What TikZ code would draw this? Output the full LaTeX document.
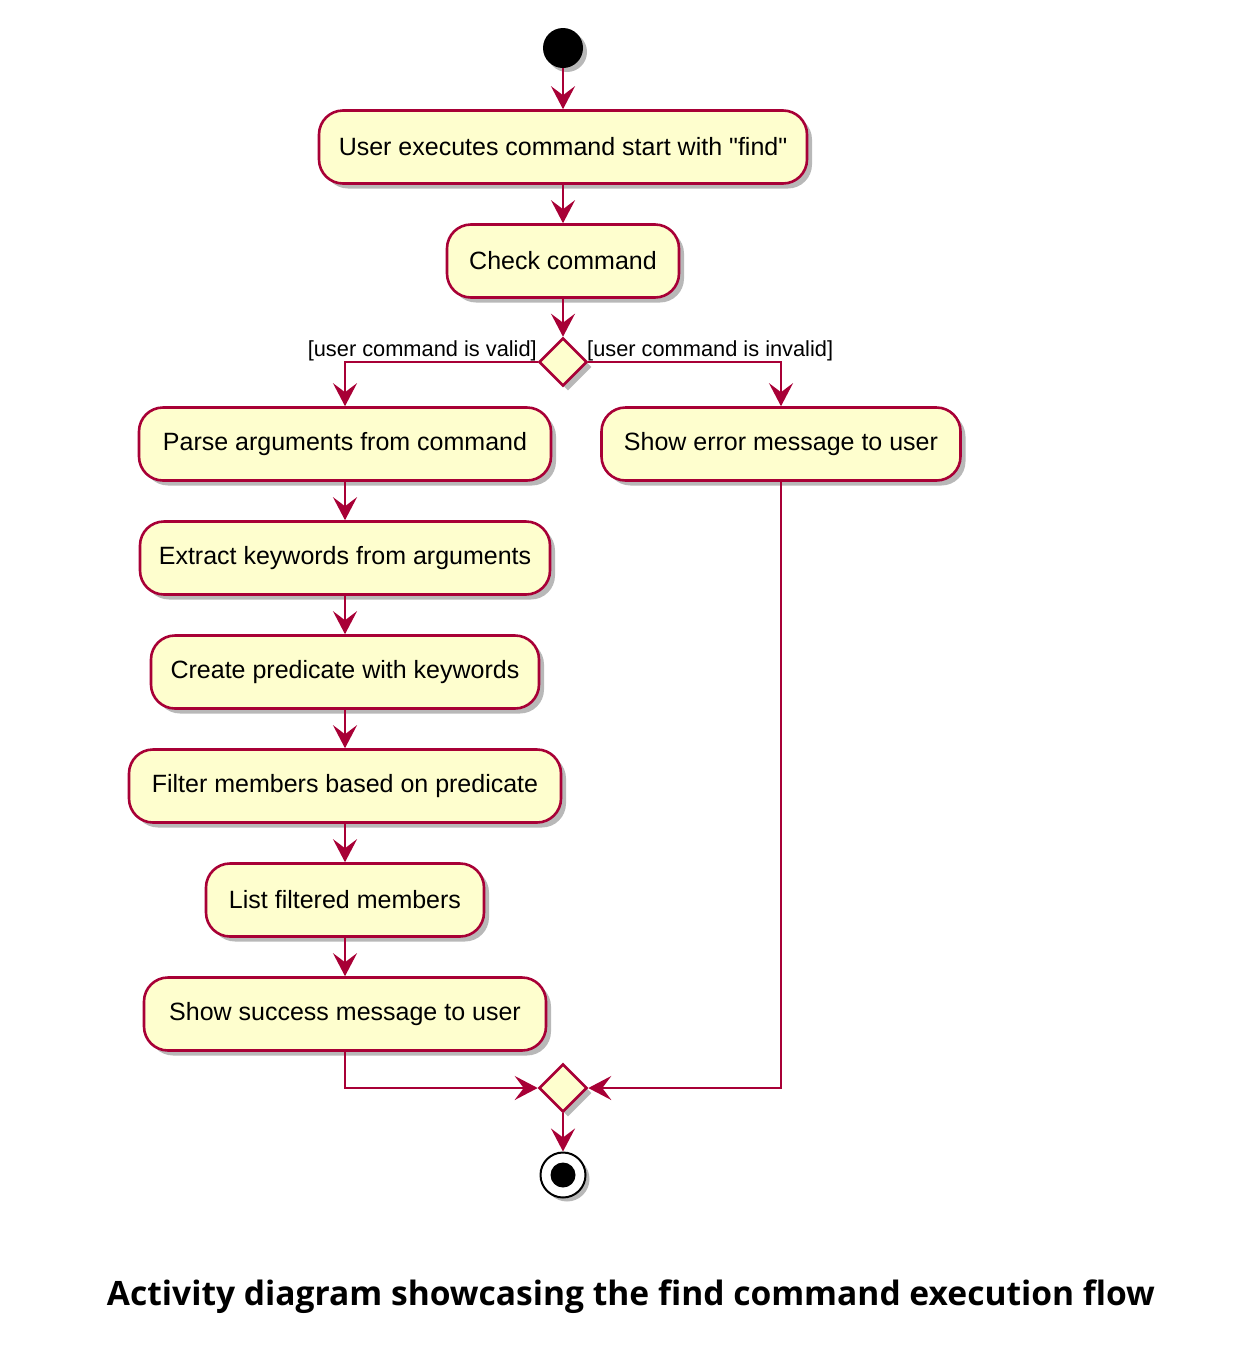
\documentclass[tikz,border=0pt]{standalone}
\usepackage{fontspec}
\setmainfont[Ligatures=TeXOff]{Liberation Sans}
\newfontfamily\capfont{Open Sans}
\usetikzlibrary{arrows.meta,shapes.geometric,shadows}
\definecolor{umlfill}{HTML}{FEFECE}
\definecolor{umlline}{HTML}{A80036}
\tikzset{
  actbox/.style={draw=umlline, fill=umlfill, line width=2.6pt, rounded corners=24pt,
    minimum height=73pt, inner sep=0pt, font=\fontsize{25}{28}\selectfont,
    drop shadow={shadow xshift=5pt, shadow yshift=-5pt, fill=black, opacity=0.28}},
  decbox/.style={draw=umlline, fill=umlfill, line width=2.6pt, diamond, aspect=1,
    minimum width=48pt, minimum height=48pt, inner sep=0pt,
    drop shadow={shadow xshift=5pt, shadow yshift=-5pt, fill=black, opacity=0.28}},
  arr/.style={draw=umlline, line width=2.5pt, -{Stealth[length=23pt, width=24pt, inset=9pt]}},
  lbl/.style={inner sep=0pt, font=\fontsize{21.8}{24}\selectfont},
}
\begin{document}
\begin{tikzpicture}[x=1pt, y=-1pt]
\useasboundingbox (0,0) rectangle (1246,1358);
\node[circle, fill=black, minimum size=40pt, inner sep=0pt,
  drop shadow={shadow xshift=4pt, shadow yshift=-4pt, fill=black, opacity=0.28}] (start) at (563,48) {};
\node[actbox, minimum width=488pt] (b1) at (563,147) {User executes command start with "find"};
\node[actbox, minimum width=232pt] (b2) at (563,261) {Check command};
\node[decbox] (d1) at (563,362) {};
\node[actbox, minimum width=412pt] (b3) at (345,444) {Parse arguments from command};
\node[actbox, minimum width=359pt] (err) at (781,444) {Show error message to user};
\node[actbox, minimum width=410pt] (b4) at (345,558) {Extract keywords from arguments};
\node[actbox, minimum width=388pt] (b5) at (345,672) {Create predicate with keywords};
\node[actbox, minimum width=432pt] (b6) at (345,786) {Filter members based on predicate};
\node[actbox, minimum width=278pt] (b7) at (345,900) {List filtered members};
\node[actbox, minimum width=402pt] (b8) at (345,1014) {Show success message to user};
\node[decbox] (d2) at (563,1088) {};
\node[circle, draw=black, fill=white, line width=2pt, minimum size=45pt, inner sep=0pt,
  drop shadow={shadow xshift=4pt, shadow yshift=-4pt, fill=black, opacity=0.28}] (stop) at (563,1175) {};
\node[circle, fill=black, minimum size=25pt, inner sep=0pt] (stopin) at (563,1175) {};

\node[lbl, anchor=base east] (lv) at (537,356) {[user command is valid]};
\node[lbl, anchor=base west] (li) at (587,356) {[user command is invalid]};

\draw[arr] (start) -- (b1);
\draw[arr] (b1) -- (b2);
\draw[arr] (b2) -- (d1);
\draw[arr] (d1.west) -| (b3.north);
\draw[arr] (d1.east) -| (err.north);
\draw[arr] (b3) -- (b4);
\draw[arr] (b4) -- (b5);
\draw[arr] (b5) -- (b6);
\draw[arr] (b6) -- (b7);
\draw[arr] (b7) -- (b8);
\draw[arr] (b8.south) |- (d2.west);
\draw[arr] (err.south) |- (d2.east);
\draw[arr] (d2) -- (stop);

\node[inner sep=0pt, anchor=base] (cap) at (631,1305)
  {\resizebox{1048pt}{!}{\capfont\bfseries Activity diagram showcasing the find command execution flow}};
\end{tikzpicture}
\end{document}
